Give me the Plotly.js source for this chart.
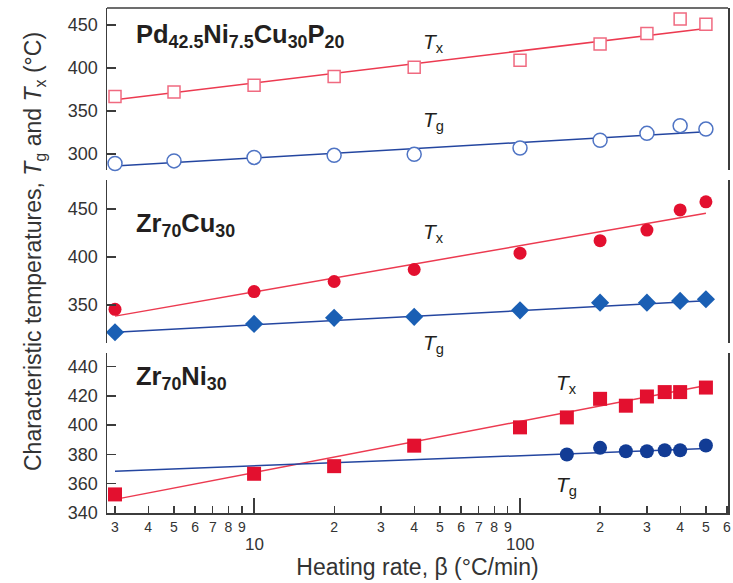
<!DOCTYPE html>
<html><head><meta charset="utf-8">
<script src="https://cdn.plot.ly/plotly-3.0.1.min.js"></script>
<style>html,body{margin:0;padding:0;background:#fff}</style>
</head><body>
<div id="chart" style="width:733px;height:583px"></div>
<script>
// ---- Data ----
// Pd42.5Ni7.5Cu30P20 (top panel)
const pdRates = [3, 5, 10, 20, 40, 100, 200, 300, 400, 500];
const pdTx = [367, 372, 380, 390, 401, 409, 428, 440, 457, 451];
const pdTg = [289, 292, 296, 298.5, 299.6, 307, 316, 324, 333, 329];
const pdFitRates = [3, 500];
const pdTxFit = [363, 446];
const pdTgFit = [286, 326];

// Zr70Cu30 (middle panel)
const cuRates = [3, 10, 20, 40, 100, 200, 300, 400, 500];
const cuTx = [345.5, 364, 374.5, 387, 404, 417, 428, 449, 457.5];
const cuTg = [321.6, 330.3, 336.6, 337.7, 344.4, 352.4, 352.4, 354.2, 356];
const cuFitRates = [3, 500];
const cuTxFit = [338.4, 445.5];
const cuTgFit = [321.6, 354.5];

// Zr70Ni30 (bottom panel)
const niTxRates = [3, 10, 20, 40, 100, 150, 200, 250, 300, 350, 400, 500];
const niTx = [352.7, 366.8, 372, 386, 398.5, 405.3, 418, 413.3, 419.6, 422.6, 422.6, 425.7];
const niTgRates = [150, 200, 250, 300, 350, 400, 500];
const niTg = [380, 384.5, 382.2, 382.2, 382.9, 382.9, 386.1];
const niFitRates = [3, 500];
const niTxFit = [349.3, 427.1];
const niTgFit = [368.6, 384];

// Axis ticks
const xTickVals = [3,4,5,6,7,8,9,20,30,40,50,60,70,80,90,200,300,400,500,600];
const xTickText = ['3','4','5','6','7','8','9','2','3','4','5','6','7','8','9','2','3','4','5','6'];
const xDecadeVals = [10, 100];
const xDecadeText = ['10', '100'];
const topYTicks = [300, 350, 400, 450];
const midYTicks = [350, 400, 450];
const botYTicks = [340, 360, 380, 400, 420, 440];

// ---- Styling ----
const FONT = 'Liberation Sans, Arial, Helvetica, sans-serif';
const AX = '#3c3c3c';
const RED_LINE = '#ec3a50';
const BLUE_LINE = '#2446a0';

function line(x, y, yaxis, color) {
  return {x: x, y: y, yaxis: yaxis, type: 'scatter', mode: 'lines',
          line: {color: color, width: 1.5}, hoverinfo: 'skip'};
}
function pts(x, y, yaxis, marker) {
  return {x: x, y: y, yaxis: yaxis, type: 'scatter', mode: 'markers',
          marker: marker, cliponaxis: false};
}

const traces = [
  line(pdFitRates, pdTxFit, 'y3', RED_LINE),
  line(pdFitRates, pdTgFit, 'y3', BLUE_LINE),
  pts(pdRates, pdTx, 'y3', {symbol: 'square', size: 12, color: '#ffffff', line: {color: '#f06a80', width: 1.5}}),
  pts(pdRates, pdTg, 'y3', {symbol: 'circle', size: 14, color: '#ffffff', line: {color: '#4f74c4', width: 1.5}}),

  line(cuFitRates, cuTxFit, 'y2', RED_LINE),
  line(cuFitRates, cuTgFit, 'y2', BLUE_LINE),
  pts(cuRates, cuTx, 'y2', {symbol: 'circle', size: 13, color: '#e3102f'}),
  pts(cuRates, cuTg, 'y2', {symbol: 'diamond', size: 14, color: '#1a5fb4'}),

  line(niFitRates, niTxFit, 'y', RED_LINE),
  line(niFitRates, niTgFit, 'y', BLUE_LINE),
  pts(niTxRates, niTx, 'y', {symbol: 'square', size: 14, color: '#e3102f'}),
  pts(niTgRates, niTg, 'y', {symbol: 'circle', size: 14, color: '#123c95'})
];

function yax(domain, range, ticks) {
  return {domain: domain, range: range, anchor: 'x', tickmode: 'array', tickvals: ticks,
          showline: true, linecolor: AX, linewidth: 1.5, mirror: true,
          ticks: 'inside', ticklen: 9, tickwidth: 1.5, tickcolor: AX,
          showgrid: false, zeroline: false, ticklabelstandoff: 4,
          tickfont: {size: 18, color: '#333'}};
}

const W = 733, H = 583, L = 107, R = 5, T = 8, B = 70;
const pw = W - L - R, ph = H - T - B;
const px = v => (v - L) / pw;
const py = v => (H - B - v) / ph;

function ann(text, x, y, size, extra) {
  return Object.assign({text: text, xref: 'paper', yref: 'paper', x: px(x), y: py(y),
    xanchor: 'left', yanchor: 'middle', showarrow: false,
    font: {family: FONT, size: size, color: '#231f20'}}, extra || {});
}

const annotations = [
  ann('<b>Pd<sub>42.5</sub>Ni<sub>7.5</sub>Cu<sub>30</sub>P<sub>20</sub></b>', 134, 36, 25.5),
  ann('<i>T</i><sub>x</sub>', 421, 43, 21),
  ann('<i>T</i><sub>g</sub>', 421, 121, 21),
  ann('<b>Zr<sub>70</sub>Cu<sub>30</sub></b>', 134, 225, 25.5),
  ann('<i>T</i><sub>x</sub>', 421, 233, 21),
  ann('<i>T</i><sub>g</sub>', 421, 344, 21),
  ann('<b>Zr<sub>70</sub>Ni<sub>30</sub></b>', 134, 378, 25.5),
  ann('<i>T</i><sub>x</sub>', 554, 384, 21),
  ann('<i>T</i><sub>g</sub>', 554, 486, 21),
  ann('Characteristic temperatures, <i>T</i><sub>g</sub> and <i>T</i><sub>x</sub> (°C)', 34, 252, 23,
      {xanchor: 'center', textangle: -90, font: {family: FONT, size: 23, color: '#333'}})
];
xDecadeVals.forEach((v, i) => {
  annotations.push({text: xDecadeText[i], xref: 'x', yref: 'paper', x: Math.log10(v), y: py(544),
    xanchor: 'center', yanchor: 'middle', showarrow: false,
    font: {family: FONT, size: 17, color: '#333'}});
});

const layout = {
  width: W, height: H,
  margin: {l: L, r: R, t: T, b: B},
  paper_bgcolor: '#ffffff', plot_bgcolor: '#ffffff',
  showlegend: false,
  font: {family: FONT, color: '#333', size: 18},
  xaxis: {type: 'log', range: [0.447, 2.782], anchor: 'y',
          tickmode: 'array', tickvals: xTickVals, ticktext: xTickText,
          showline: true, linecolor: AX, linewidth: 1.5,
          ticks: 'inside', ticklen: 7, tickwidth: 1.2, tickcolor: AX,
          tickfont: {size: 14, color: '#333'}, ticklabelstandoff: 1,
          showgrid: false, zeroline: false,
          minor: {tickmode: 'array', tickvals: xDecadeVals, ticks: 'inside', ticklen: 15,
                  tickwidth: 1.5, tickcolor: AX, showgrid: false},
          title: {text: 'Heating rate, β (°C/min)', font: {size: 23, color: '#333'}, standoff: 24}},
  yaxis: yax([0, 0.3174], [340, 449.5], botYTicks),
  yaxis2: yax([0.3366, 0.6594], [310.4, 480.2], midYTicks),
  yaxis3: yax([0.6792, 1], [281.4, 469.8], topYTicks),
  shapes: [{type: 'line', xref: 'paper', yref: 'paper', x0: 0, x1: 1, y0: 1, y1: 1,
            line: {color: AX, width: 1.5}}],
  annotations: annotations
};

Plotly.newPlot('chart', traces, layout, {staticPlot: true, displayModeBar: false});
</script>
</body></html>
